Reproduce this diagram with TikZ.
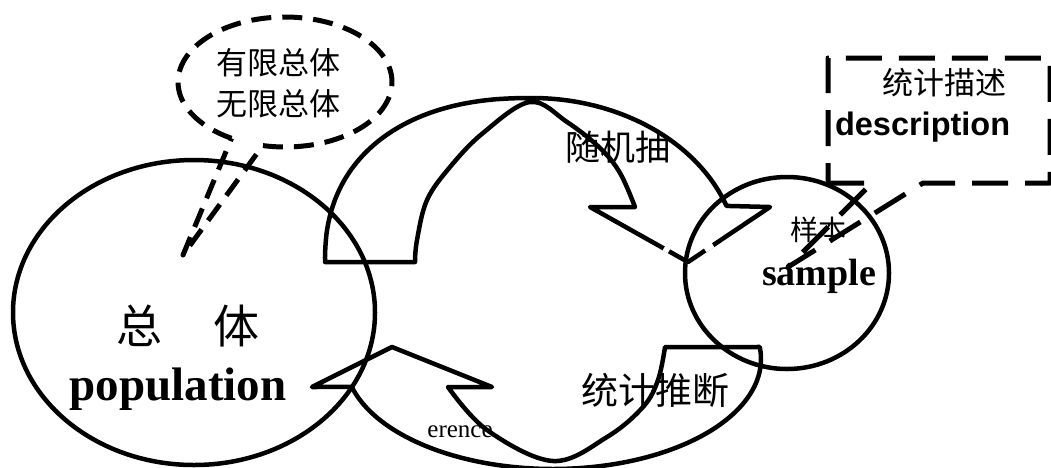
\documentclass[tikz,border=0pt]{standalone}
\usepackage{fontspec}
\setmainfont{Liberation Serif}
\newfontfamily\cjk{Noto Sans CJK SC}
\newfontfamily\arialfont{Liberation Sans}
\begin{document}
\begin{tikzpicture}[x=1pt,y=-1pt,
  shp/.style={draw=black, line width=4.5pt, line join=round},
  dshe/.style={draw=black, line width=5pt, dash pattern=on 20pt off 11pt, line join=round},
  dshr/.style={draw=black, line width=5pt, dash pattern=on 36pt off 17pt, line join=round},
  txt/.style={inner sep=0pt, outer sep=0pt},
  gap/.style={draw=white, line width=5.5pt},
]
\useasboundingbox (0,0) rectangle (1051,467);
% texts
\node[txt, align=center, font=\cjk\fontsize{31}{41}\selectfont] (kinds) at (278,83) {有限总体\\无限总体};
\node[txt, font=\cjk\fontsize{46}{46}\selectfont] (popcn) at (188,326) {总\hspace{52pt}体};
\node[txt, anchor=base, font=\fontsize{47}{47}\selectfont\bfseries] (popen) at (178,400) {population};
\node[txt, font=\cjk\fontsize{35}{35}\selectfont] (sampling) at (618,147) {随机抽};
\node[txt, font=\cjk\fontsize{37}{37}\selectfont] (infer) at (655,390) {统计推断};
\node[txt, anchor=base, font=\fontsize{25}{25}\selectfont] (erence) at (460,437) {erence};
\node[txt, font=\cjk\fontsize{28}{28}\selectfont] (samplecn) at (818,230) {样本};
\node[txt, anchor=base, font=\fontsize{38}{38}\selectfont\bfseries] (sampleen) at (819,285) {sample};
\node[txt, font=\cjk\fontsize{31}{31}\selectfont] (desccn) at (944,83) {统计描述};
\node[txt, anchor=base west, font=\arialfont\fontsize{32.5}{32.5}\selectfont\bfseries] (descen) at (835,135) {description};
% population and sample
\draw[shp] (194,312.5) ellipse [x radius=181pt, y radius=152.5pt];
\draw[shp] (787,273) ellipse [x radius=102pt, y radius=96pt];
% upper curved arrow (sampling)
\draw[shp] (415,262) -- (325,262)
  -- plot[domain=181:269, samples=70] ({532-207*pow(abs(cos(\x)),0.87)},{262-164*pow(abs(sin(\x)),0.87)})
  -- (532,98)
  -- plot[domain=270:340, samples=50] ({532+207*cos(\x)},{262+164*sin(\x)})
  -- (770,207) -- (688,262) -- (590,207) -- (635,207)
  -- plot[smooth, tension=0.6] coordinates {(635,207) (620,173) (600,148) (567,122) (530,102) (483,133) (450,167) (427,200) (417,240) (415,262)}
  -- cycle;
% small breaks near the arrow tip
\draw[gap] (664,248) -- (669,251);
\draw[gap] (705,250) -- (713,245);
% lower curved arrow (inference)
\draw[shp] (665,347) -- (757,347)
  -- plot[domain=-6.3:165.3, samples=90] ({553+208*cos(\x)},{359+110*sin(\x)})
  -- (312,387) -- (392,347) -- (492,387) -- (448,387)
  -- plot[smooth, tension=0.6] coordinates {(448,387) (487,430) (553,461) (607,437) (643,407) (658,380) (665,347)}
  -- cycle;
% dashed callouts
\draw[dshe] plot[domain=120:462, samples=120] ({285+107*cos(\x)},{82+65*sin(\x)}) -- (183,255) -- cycle;
\draw[dshr] (828,183) -- (872,183) -- (788,267) -- (923,183) -- (1050,183) -- (1050,58) -- (828,58) -- cycle;
\end{tikzpicture}
\end{document}
